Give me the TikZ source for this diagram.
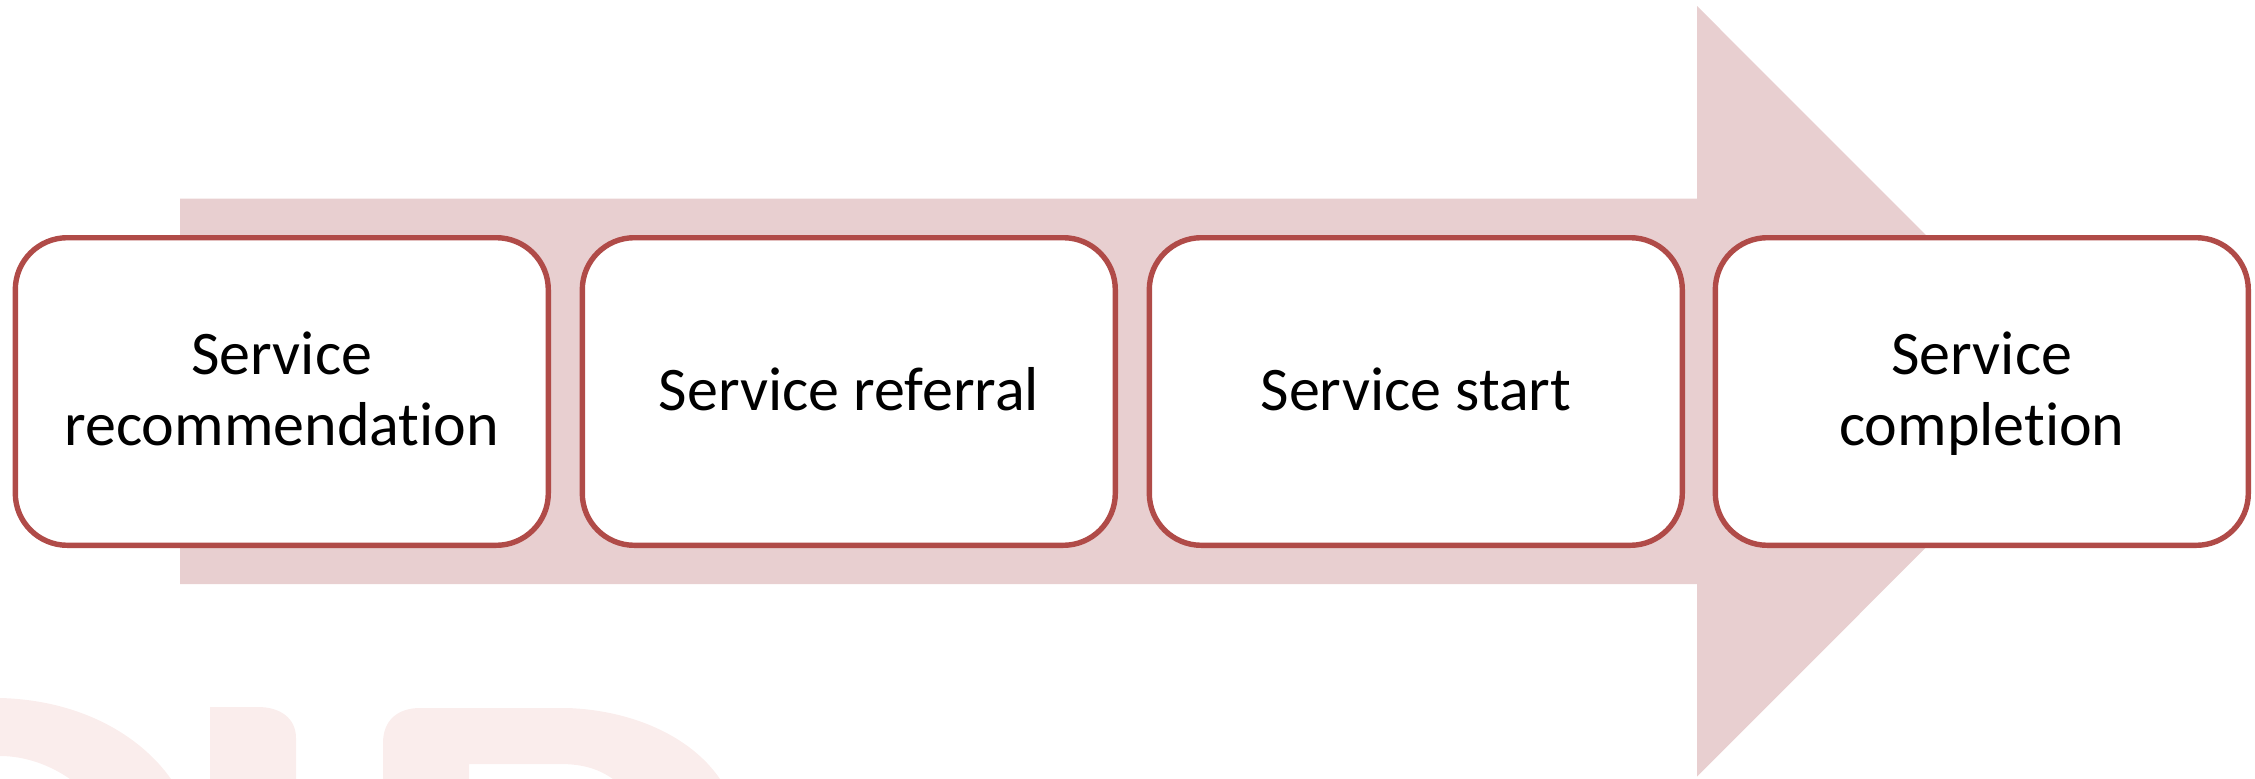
\documentclass[tikz,border=0pt]{standalone}
\usepackage{fontspec}
\setmainfont{Carlito}[RawFeature={-liga;-clig}]
\definecolor{boxline}{RGB}{176,75,72}
\definecolor{arrowfill}{RGB}{232,207,208}
\definecolor{wmark}{RGB}{250,237,236}
\tikzset{
  stepbox/.style={draw=boxline, line width=5.4pt, fill=white, rounded corners=52pt,
    minimum width=533pt, minimum height=307.6pt, inner sep=0pt},
  lbl/.style={font=\fontsize{62}{71}\selectfont, text=black, inner sep=0pt, anchor=base},
}
\begin{document}
\begin{tikzpicture}[x=1pt,y=-1pt]
\useasboundingbox (0,0) rectangle (2255,779);
\begin{scope}
\clip (0,0) rectangle (2255,779);
% watermark fragments
\fill[wmark] (0,698) .. controls (80,700) and (140,735) .. (171,779) -- (70,779)
  .. controls (50,765) and (25,756) .. (0,756) -- cycle;
\fill[wmark] (210,779) -- (210,707) -- (258,707) .. controls (280,707) and (296,718) .. (296,738) -- (296,779) -- cycle;
\fill[wmark] (383,779) -- (383,743) .. controls (383,720) and (398,708) .. (420,708) -- (567,708)
  .. controls (630,710) and (690,735) .. (720,779) -- (613,779)
  .. controls (600,770) and (585,764) .. (560,764) -- (469,764) -- (469,779) -- cycle;
% big arrow
\fill[arrowfill] (180,198.6) -- (1697,198.6) -- (1697,6) -- (2082,391.3) -- (1697,776.6)
  -- (1697,584) -- (180,584) -- cycle;
\end{scope}
% boxes
\node[stepbox] (b1) at (281.8,391.5) {};
\node[stepbox] (b2) at (848.8,391.5) {};
\node[stepbox] (b3) at (1415.8,391.5) {};
\node[stepbox] (b4) at (1981.8,391.5) {};
% labels
\node[lbl] (l1a) at (281.8,374) {Service};
\node[lbl] (l1b) at (281.8,445) {recommendation};
\node[lbl] (l2) at (848.8,410) {Service referral};
\node[lbl] (l3) at (1415.8,410) {Service start};
\node[lbl] (l4a) at (1981.8,374) {Service};
\node[lbl] (l4b) at (1981.8,445) {completion};
\end{tikzpicture}
\end{document}
